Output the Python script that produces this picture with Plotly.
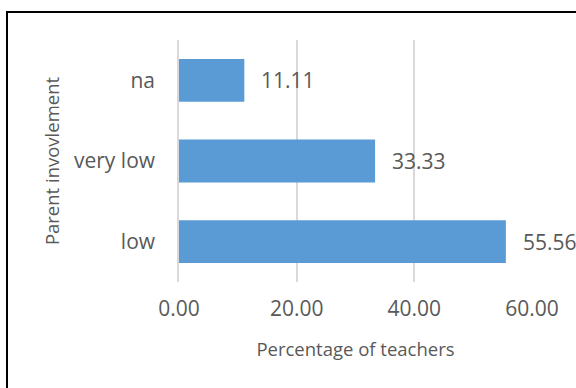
import plotly.graph_objects as go

categories = ["low", "very low", "na"]
values = [55.56, 33.33, 11.11]
labels = ["55.56", "33.33", "11.11"]
tick_vals = [0, 20, 40, 60]
tick_text = ["0.00", "20.00", "40.00", "60.00"]

W, H = 576, 388
ml, mr, mt, mb = 179, 44, 40, 106
pw, ph = W - ml - mr, H - mt - mb

def px_x(p):
    return (p - ml) / pw

def px_y(p):
    return (H - mb - p) / ph

FONT = "Open Sans"
GREY = "#595959"

fig = go.Figure()
fig.add_trace(go.Bar(
    x=values, y=categories, orientation="h",
    marker=dict(color="#5B9BD5", line=dict(width=0)),
    hoverinfo="skip",
))
for c, v, t in zip(categories, values, labels):
    fig.add_annotation(x=v, y=c, text=t, showarrow=False, xanchor="left",
                       xshift=15, font=dict(family=FONT, size=21, color=GREY))

# page border (thick black lines at top and left)
fig.add_shape(type="line", xref="paper", yref="paper", layer="above",
              x0=px_x(6), x1=px_x(576), y0=px_y(12), y1=px_y(12),
              line=dict(color="black", width=2))
fig.add_shape(type="line", xref="paper", yref="paper", layer="above",
              x0=px_x(7), x1=px_x(7), y0=px_y(11), y1=px_y(388),
              line=dict(color="black", width=2))

fig.update_layout(
    width=W, height=H,
    margin=dict(l=ml, r=mr, t=mt, b=mb),
    paper_bgcolor="white", plot_bgcolor="white",
    bargap=0.47, showlegend=False,
    font=dict(family=FONT, color=GREY, size=21),
    xaxis=dict(range=[0, 60], tickvals=tick_vals, ticktext=tick_text,
               showgrid=True, gridcolor="#D9D9D9", gridwidth=1.5,
               zeroline=False, showline=False, ticks="",
               ticklabelstandoff=12,
               tickfont=dict(family=FONT, size=21, color=GREY),
               title=dict(text="Percentage of teachers", standoff=22,
                          font=dict(family=FONT, size=18.5, color=GREY))),
    yaxis=dict(categoryorder="array", categoryarray=categories,
               showgrid=False, zeroline=False, showline=True,
               linecolor="#D9D9D9", linewidth=1.5, ticks="",
               ticklabelstandoff=18,
               tickfont=dict(family=FONT, size=21, color=GREY),
               title=dict(text="Parent invovlement", standoff=10,
                          font=dict(family=FONT, size=18.5, color=GREY))),
)

fig.write_html("out.html", config={"displayModeBar": False},
               post_script="document.body.style.margin='0';document.body.style.overflow='hidden';")
